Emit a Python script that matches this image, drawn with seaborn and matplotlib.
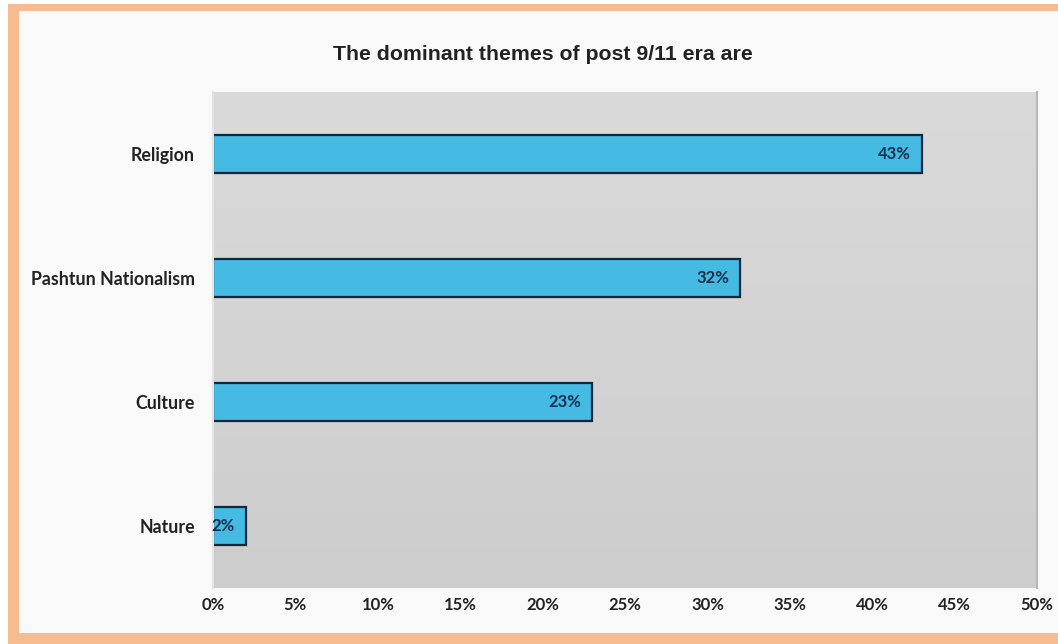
import matplotlib
matplotlib.use("Agg")
import matplotlib.pyplot as plt
from matplotlib.patches import Rectangle
from matplotlib.ticker import FuncFormatter
import numpy as np
import pandas as pd
import seaborn as sns

# Share of poems by dominant theme after 9/11
themes = ["Religion", "Pashtun Nationalism", "Culture", "Nature"]
shares = [43, 32, 23, 2]
x_ticks = [0, 5, 10, 15, 20, 25, 30, 35, 40, 45, 50]
title = "The dominant themes of post 9/11 era are"

df = pd.DataFrame({"theme": themes, "share": shares})

sns.set_theme(style="white")
plt.rcParams["font.family"] = ["Lato", "DejaVu Sans"]

W, H = 1058, 644
fig = plt.figure(figsize=(W / 100, H / 100), dpi=100)
fig.patch.set_facecolor("white")

# orange frame and pale panel
fig.patches.append(Rectangle((8 / W, 0), 1, 1 - 4 / H, transform=fig.transFigure,
                             facecolor="#f7bb90", edgecolor="none", zorder=-10))
fig.patches.append(Rectangle((19 / W, 11 / H), 1, 1 - 22 / H, transform=fig.transFigure,
                             facecolor="#f9f9f9", edgecolor="none", zorder=-9))

left, right, top, bottom = 213, 1037, 92, 588
ax = fig.add_axes([left / W, 1 - bottom / H, (right - left) / W, (bottom - top) / H])

# soft vertical gradient in the plot area
grad = np.linspace(0, 1, 256).reshape(-1, 1)
ax.imshow(grad, extent=[0, 1, 0, 1], transform=ax.transAxes, aspect="auto",
          cmap=matplotlib.colors.LinearSegmentedColormap.from_list("bg", ["#cdcdcd", "#dadada"]),
          origin="lower", zorder=0)

sns.barplot(data=df, x="share", y="theme", orient="h", color="#45bbe4",
            edgecolor="#13263a", linewidth=1.6, width=0.31, saturation=1, ax=ax, zorder=2)

ax.set_xlim(0, 50)
ax.set_ylim(3.5, -0.5)
ax.set_xticks(x_ticks)
ax.xaxis.set_major_formatter(FuncFormatter(lambda v, p: f"{v:.0f}%"))
ax.set_xlabel("")
ax.set_ylabel("")
ax.set_facecolor("#d4d4d4")

for s in ["top", "bottom"]:
    ax.spines[s].set_visible(False)
ax.spines["left"].set_color("#e4e4e4")
ax.spines["left"].set_linewidth(1.5)
ax.spines["right"].set_color("#b8b8b8")
ax.spines["right"].set_linewidth(1.5)

ax.tick_params(axis="x", length=0, pad=6.5, labelsize=12, colors="#222222")
ax.tick_params(axis="y", length=0, pad=13, labelsize=12.8, colors="#222222")
for lab in ax.get_xticklabels() + ax.get_yticklabels():
    lab.set_fontweight("bold")

for c in ax.containers:
    texts = ax.bar_label(c, labels=[f"{v}%" for v in shares], padding=-8,
                         color="#14304d", fontweight="bold", fontsize=12)
    for t in texts:
        t.set_horizontalalignment("right")

fig.text(543 / W, 1 - 54 / H, title, ha="center", va="center",
         fontsize=15.3, fontweight="bold", family=["Liberation Sans", "DejaVu Sans"],
         color="#222222")

fig.savefig("out.png", dpi=100)
